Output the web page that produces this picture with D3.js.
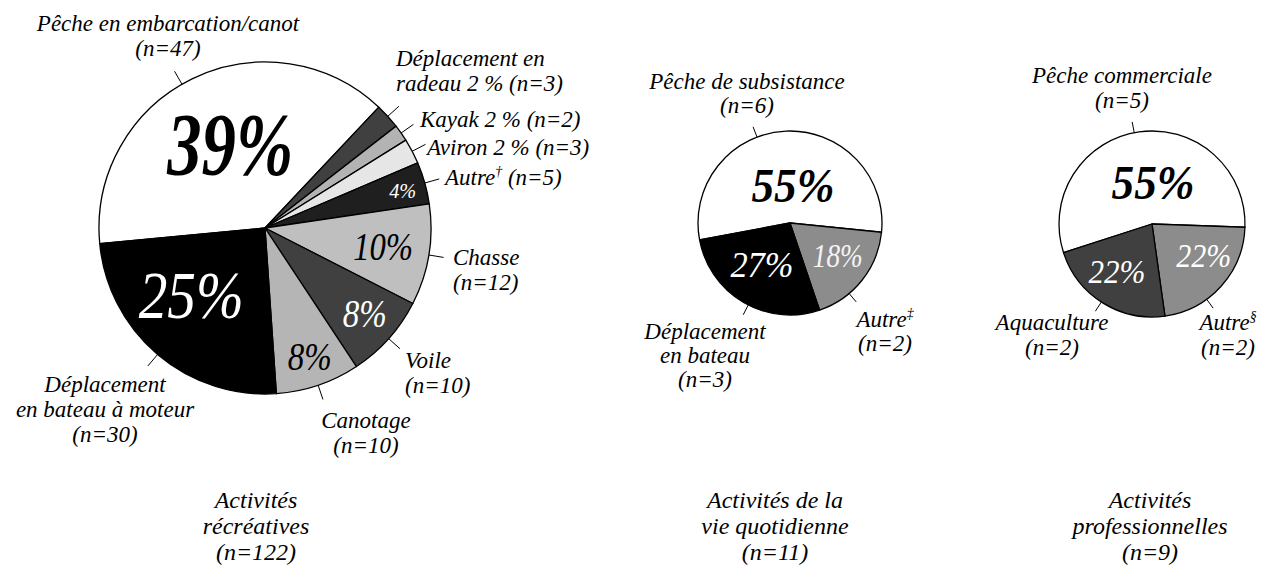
<!DOCTYPE html>
<html>
<head>
<meta charset="utf-8">
<script src="https://cdn.jsdelivr.net/npm/d3@7"></script>
<style>
body { margin: 0; background: #fff; }
</style>
</head>
<body>
<script>
// ---- data ----
const recCats = ["Pêche en embarcation/canot", "Déplacement en radeau", "Kayak", "Aviron", "Autre", "Chasse", "Voile", "Canotage", "Déplacement en bateau à moteur"];
const recN = [47, 3, 2, 3, 5, 12, 10, 10, 30];
const recPct = ["39%", "", "", "", "4%", "10%", "8%", "8%", "25%"];
const recLabels = [["Pêche en embarcation/canot", "(n=47)"], ["Déplacement en", "radeau 2 % (n=3)"], ["Kayak 2 % (n=2)"], ["Aviron 2 % (n=3)"],
    ["Autre^† (n=5)"], ["Chasse", "(n=12)"], ["Voile", "(n=10)"], ["Canotage", "(n=10)"], ["Déplacement", "en bateau à moteur", "(n=30)"]];

const quoCats = ["Pêche de subsistance", "Autre", "Déplacement en bateau"];
const quoN = [6, 2, 3];
const quoPct = ["55%", "18%", "27%"];
const quoLabels = [["Pêche de subsistance", "(n=6)"], ["Autre^‡", "(n=2)"], ["Déplacement", "en bateau", "(n=3)"]];

const proCats = ["Pêche commerciale", "Autre", "Aquaculture"];
const proN = [5, 2, 2];
const proPct = ["55%", "22%", "22%"];
const proLabels = [["Pêche commerciale", "(n=5)"], ["Autre^§", "(n=2)"], ["Aquaculture", "(n=2)"]];

const groupTitles = [["Activités", "récréatives", "(n=122)"], ["Activités de la", "vie quotidienne", "(n=11)"], ["Activités", "professionnelles", "(n=9)"]];

// ---- layout / styling ----
const W = 1266, H = 570;
const rad = Math.PI / 180;
const FONT = "Liberation Serif";

const pies = [
    {
        n: recN, pct: recPct, labels: recLabels, cx: 265, cy: 228, r: 166, start: -95.4, lead: 15, gap: 25, titleX: 256,
        fills: ["#ffffff", "#404040", "#b3b3b3", "#e6e6e6", "#1f1f1f", "#bfbfbf", "#404040", "#b5b5b5", "#000000"],
        // [radius fraction, angle, font size, weight, colour, text length]
        pctPos: [[0.55, -22.4, 89, "bold", "#000", 126], null, null, null, [0.86, 74.6, 22, "normal", "#fff", 27],
            [0.72, 98.7, 41, "normal", "#000", 60], [0.79, 130.4, 40, "normal", "#fff", 44],
            [0.82, 160.8, 40, "normal", "#000", 44], [0.60, 227.8, 68, "normal", "#fff", 105]],
        // [leader angle (null = middle of slice), text x, first baseline y, anchor]
        labPos: [[-30, 168, 31, "middle"], [null, 396, 66, "start"], [null, 420, 127, "start"], [null, 427, 155, "start"],
            [null, 445, 185, "start"], [null, 453, 265, "start"], [null, 405, 368, "start"], [null, 366, 428, "middle"],
            [null, 105, 392, "middle"]]
    },
    {
        n: quoN, pct: quoPct, labels: quoLabels, cx: 790, cy: 223, r: 92, start: -100.6, lead: 11, gap: 24, titleX: 775,
        fills: ["#ffffff", "#8c8c8c", "#000000"],
        pctPos: [[0.41, 4.5, 48, "bold", "#000", 83], [0.63, 124.5, 34, "normal", "#f4f4f4", 50], [0.55, 213.7, 35, "normal", "#fff", 63]],
        labPos: [[-21, 747, 89, "middle"], [140, 885, 327, "middle"], [207, 705, 339, "middle"]]
    },
    {
        n: proN, pct: proPct, labels: proLabels, cx: 1152, cy: 224, r: 93, start: -108, lead: 11, gap: 25, titleX: 1150,
        fills: ["#ffffff", "#8c8c8c", "#404040"],
        pctPos: [[0.44, 1.4, 48, "bold", "#000", 83], [0.65, 121, 34, "normal", "#fff", 55], [0.63, 216.7, 34, "normal", "#fff", 57]],
        labPos: [[-11, 1122, 83, "middle"], [144, 1228, 330, "middle"], [213, 1052, 330, "middle"]]
    }
];

const svg = d3.select("body").append("svg")
    .attr("width", W)
    .attr("height", H);

// writes one line, "^x" becomes a raised small character
function writeLine(textSel, str) {
    let raised = false;
    str.split(/(\^.)/).filter(s => s.length).forEach(part => {
        if (part[0] === "^") {
            textSel.append("tspan").attr("font-size", "0.6em").attr("dy", -9).text(part[1]);
            raised = true;
        } else {
            const ts = textSel.append("tspan").text(part);
            if (raised) { ts.attr("dy", 9); raised = false; }
        }
    });
}

pies.forEach((p, pi) => {
    const pie = d3.pie().sort(null).value(d => d)
        .startAngle(p.start * rad)
        .endAngle(p.start * rad + 2 * Math.PI);
    const arcs = pie(p.n);
    const arc = d3.arc().innerRadius(0).outerRadius(p.r);

    const g = svg.append("g").attr("transform", `translate(${p.cx},${p.cy})`);

    g.selectAll("path")
        .data(arcs)
        .enter()
        .append("path")
        .attr("d", arc)
        .attr("fill", (d, i) => p.fills[i])
        .attr("stroke", "#000")
        .attr("stroke-width", 1.3)
        .attr("stroke-linejoin", "round");

    // percentages inside the slices
    const pctData = arcs.map((a, i) => ({ a, i })).filter(o => p.pct[o.i] && p.pctPos[o.i]);
    g.selectAll("text.pct")
        .data(pctData)
        .enter()
        .append("text")
        .attr("class", "pct")
        .attr("x", o => Math.sin(p.pctPos[o.i][1] * rad) * p.r * p.pctPos[o.i][0])
        .attr("y", o => -Math.cos(p.pctPos[o.i][1] * rad) * p.r * p.pctPos[o.i][0])
        .attr("dy", "0.34em")
        .attr("text-anchor", "middle")
        .attr("font-family", FONT)
        .attr("font-style", "italic")
        .attr("font-size", o => p.pctPos[o.i][2])
        .attr("font-weight", o => p.pctPos[o.i][3])
        .attr("fill", o => p.pctPos[o.i][4])
        .attr("textLength", o => p.pctPos[o.i][5])
        .attr("lengthAdjust", "spacingAndGlyphs")
        .text(o => p.pct[o.i]);

    // leader ticks
    const leadAngle = (a, i) => p.labPos[i][0] !== null ? p.labPos[i][0] * rad : (a.startAngle + a.endAngle) / 2;
    g.selectAll("line.lead")
        .data(arcs)
        .enter()
        .append("line")
        .attr("class", "lead")
        .attr("x1", (a, i) => Math.sin(leadAngle(a, i)) * p.r)
        .attr("y1", (a, i) => -Math.cos(leadAngle(a, i)) * p.r)
        .attr("x2", (a, i) => Math.sin(leadAngle(a, i)) * (p.r + p.lead))
        .attr("y2", (a, i) => -Math.cos(leadAngle(a, i)) * (p.r + p.lead))
        .attr("stroke", "#000")
        .attr("stroke-width", 1);

    // category labels
    p.labels.forEach((lines, i) => {
        const lp = p.labPos[i];
        lines.forEach((ln, k) => {
            const t = svg.append("text")
                .attr("x", lp[1])
                .attr("y", lp[2] + k * p.gap)
                .attr("text-anchor", lp[3])
                .attr("font-family", FONT)
                .attr("font-style", "italic")
                .attr("font-size", 23)
                .attr("fill", "#000");
            writeLine(t, ln);
        });
    });

    // group title under each pie
    groupTitles[pi].forEach((ln, k) => {
        svg.append("text")
            .attr("x", p.titleX)
            .attr("y", 508 + k * 26)
            .attr("text-anchor", "middle")
            .attr("font-family", FONT)
            .attr("font-style", "italic")
            .attr("font-size", 24)
            .attr("fill", "#000")
            .text(ln);
    });
});
</script>
</body>
</html>
